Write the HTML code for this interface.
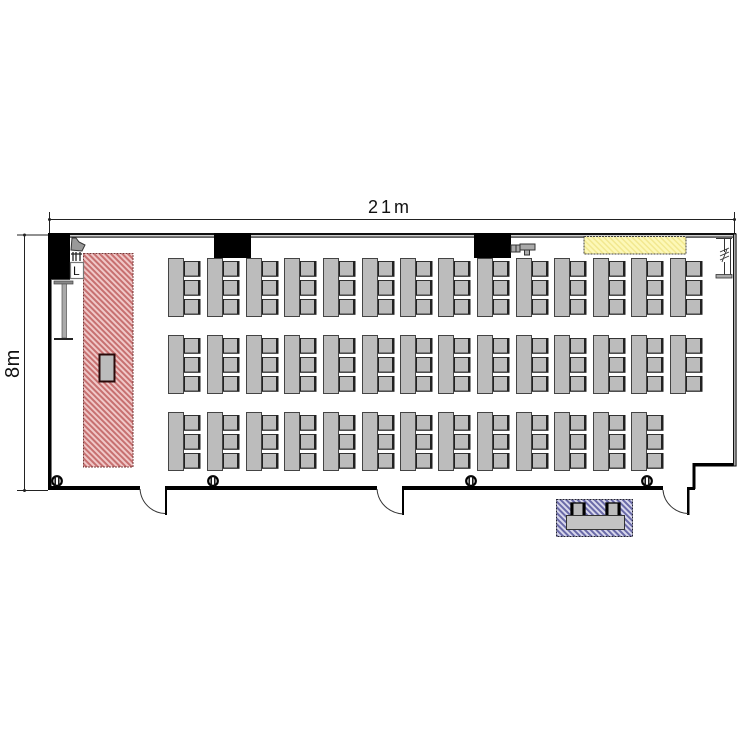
<!DOCTYPE html>
<html><head><meta charset="utf-8"><style>
html,body{margin:0;padding:0;background:#fff}
svg{display:block}
text{font-family:"Liberation Sans",sans-serif;fill:#111}
</style></head><body>
<svg width="750" height="750" viewBox="0 0 750 750" xmlns="http://www.w3.org/2000/svg">
<defs>
<pattern id="red" width="4" height="4" patternUnits="userSpaceOnUse" patternTransform="rotate(45)">
<rect width="4" height="4" fill="#f0c8c8"/><rect width="4" height="2" y="0" fill="#c77070"/>
</pattern>
<pattern id="blue" width="4" height="4" patternUnits="userSpaceOnUse" patternTransform="rotate(45)">
<rect width="4" height="4" fill="#d8d8ec"/><rect width="4" height="2" fill="#6a6aa8"/>
</pattern>
<pattern id="yel" width="4" height="4" patternUnits="userSpaceOnUse" patternTransform="rotate(45)">
<rect width="4" height="4" fill="#fdf8b8"/><rect width="4" height="1.5" fill="#f2e890"/>
</pattern>
<g id="chair">
<rect x="15" y="0" width="17" height="15.5" fill="#bcbcbc"/>
<rect x="15" y="0" width="17.5" height="1" fill="#333"/>
<rect x="15" y="14.6" width="17.5" height="1.2" fill="#222"/>
<rect x="15" y="0" width="2" height="15.5" fill="#222"/>
<rect x="30" y="0" width="2.5" height="15.5" fill="#222"/>
</g>
<g id="u">
<use href="#chair" y="3"/><use href="#chair" y="22"/><use href="#chair" y="41"/>
<rect x="0.5" y="0.5" width="15" height="58" fill="#bcbcbc" stroke="#444" stroke-width="1"/>
</g>
<g id="col">
<circle cx="0" cy="0" r="4.8" fill="#fff" stroke="#000" stroke-width="2.2"/>
<path d="M-1.8-5V5M1.8-5V5" stroke="#111" stroke-width="1.5" fill="none"/>
</g>
</defs>

<!-- dimensions -->
<g stroke="#222" stroke-width="1" fill="none">
<path d="M49 219.5H734M49.5 212V234M734.5 212V233"/>
<path d="M24.5 235V490M17 235H48M17 490.5H48"/>
</g>
<circle cx="49.5" cy="219.5" r="1.5" fill="#222"/>
<circle cx="734.5" cy="219.5" r="1.5" fill="#222"/>
<circle cx="24.5" cy="235" r="1.5" fill="#222"/>
<circle cx="24.5" cy="490.5" r="1.5" fill="#222"/>
<text x="368" y="213" font-size="18" letter-spacing="3">21m</text>
<text transform="translate(19,378) rotate(-90)" font-size="20" letter-spacing="0.5">8m</text>

<!-- top wall -->
<rect x="48" y="233" width="688" height="2.2" fill="#111"/>
<rect x="48" y="236.4" width="686" height="1.3" fill="#222"/>

<!-- black pillars -->
<rect x="48" y="233" width="22" height="46" fill="#000"/>
<rect x="214" y="233" width="37" height="25" fill="#000"/>
<rect x="474" y="233" width="37" height="25" fill="#000"/>

<!-- left wall -->
<rect x="48" y="279" width="3" height="210" fill="#000"/>
<rect x="51" y="279" width="1" height="210" fill="#777"/>
<rect x="51" y="279" width="19" height="1" fill="#444"/>

<!-- bottom walls -->
<g fill="#000">
<rect x="48" y="486" width="92" height="4"/>
<rect x="165" y="486" width="212" height="4"/>
<rect x="403" y="486" width="260" height="4"/>
<rect x="165" y="486" width="2" height="29"/>
<rect x="402" y="486" width="2" height="29"/>
<rect x="687" y="487" width="2.5" height="28"/>
<rect x="687" y="487" width="8" height="3"/>
<rect x="692.5" y="464" width="3" height="25"/>
<rect x="692.5" y="463" width="43" height="3.5"/>
</g>
<g fill="none" stroke="#333" stroke-width="1">
<path d="M140 489C141 503 152 513 165 513.5"/>
<path d="M377 489C378 503 389 513 403 514"/>
<path d="M663 490C664 503 675 513 688 513.5"/>
</g>

<!-- right wall -->
<rect x="733.5" y="234" width="2.6" height="232" fill="#aaa" stroke="#111" stroke-width="1"/>
<path d="M716 238.5H732M730.5 238V278M724.5 238V252M724.5 262V275" stroke="#333" stroke-width="1" fill="none"/>
<rect x="716" y="274.5" width="16" height="3.5" fill="#aaa" stroke="#333" stroke-width="0.8"/>
<path d="M720 252L729 248M720 256L729 252M720 260L729 256M722 262L727 249" stroke="#333" stroke-width="0.9" fill="none"/>

<!-- red area -->
<rect x="83.5" y="253.5" width="49.5" height="213.5" fill="url(#red)" stroke="#7a3a3a" stroke-width="1" stroke-dasharray="2 1"/>
<rect x="99.5" y="354.5" width="15" height="27" fill="#bcbcbc" stroke="#2a0a0a" stroke-width="2"/>

<!-- yellow -->
<rect x="584" y="236.5" width="102" height="17.5" fill="url(#yel)" stroke="#444" stroke-width="1" stroke-dasharray="2 1"/>

<!-- stand -->
<rect x="54" y="281" width="19" height="3" fill="#888" stroke="#444" stroke-width="0.7"/>
<rect x="62" y="284" width="4.5" height="54" fill="#aaa" stroke="#555" stroke-width="0.7"/>
<rect x="54" y="338" width="19" height="2" fill="#222"/>

<!-- lectern and camera -->
<path d="M72 238L76 238 79 242 85 245 82 251 71 250Z" fill="#999" stroke="#333" stroke-width="1"/>
<path d="M71 254H82M73 252V261M76 252V261M80 252V261" stroke="#222" stroke-width="1.3" fill="none"/>
<rect x="70.5" y="262.5" width="13" height="16" fill="#fff" stroke="#777" stroke-width="1.2"/>
<text x="73" y="275" font-size="12">L</text>

<!-- small object near pillar -->
<g fill="#aaa" stroke="#333" stroke-width="1">
<rect x="511" y="245" width="5" height="7"/>
<rect x="516" y="245" width="4" height="7"/>
<rect x="520" y="244" width="15" height="6"/>
<rect x="524.5" y="250" width="5" height="5"/>
</g>

<!-- desks row 1 -->
<use href="#u" x="168" y="258"/><use href="#u" x="207" y="258"/><use href="#u" x="246" y="258"/><use href="#u" x="284" y="258"/><use href="#u" x="323" y="258"/><use href="#u" x="362" y="258"/><use href="#u" x="400" y="258"/><use href="#u" x="438" y="258"/><use href="#u" x="477" y="258"/><use href="#u" x="516" y="258"/><use href="#u" x="554" y="258"/><use href="#u" x="593" y="258"/><use href="#u" x="631" y="258"/><use href="#u" x="670" y="258"/>
<!-- desks row 2 -->
<use href="#u" x="168" y="335"/><use href="#u" x="207" y="335"/><use href="#u" x="246" y="335"/><use href="#u" x="284" y="335"/><use href="#u" x="323" y="335"/><use href="#u" x="362" y="335"/><use href="#u" x="400" y="335"/><use href="#u" x="438" y="335"/><use href="#u" x="477" y="335"/><use href="#u" x="516" y="335"/><use href="#u" x="554" y="335"/><use href="#u" x="593" y="335"/><use href="#u" x="631" y="335"/><use href="#u" x="670" y="335"/>
<!-- desks row 3 -->
<use href="#u" x="168" y="412"/><use href="#u" x="207" y="412"/><use href="#u" x="246" y="412"/><use href="#u" x="284" y="412"/><use href="#u" x="323" y="412"/><use href="#u" x="362" y="412"/><use href="#u" x="400" y="412"/><use href="#u" x="438" y="412"/><use href="#u" x="477" y="412"/><use href="#u" x="516" y="412"/><use href="#u" x="554" y="412"/><use href="#u" x="593" y="412"/><use href="#u" x="631" y="412"/>

<!-- wall columns -->
<use href="#col" x="57" y="481"/><use href="#col" x="213" y="481"/><use href="#col" x="471" y="481"/><use href="#col" x="647" y="481"/>

<!-- blue area -->
<rect x="556.5" y="499.5" width="76" height="37" fill="url(#blue)" stroke="#223" stroke-width="1" stroke-dasharray="2 1"/>
<rect x="571" y="503" width="14" height="13" fill="#bcbcbc" stroke="#111" stroke-width="1.4"/>
<rect x="606" y="503" width="14" height="13" fill="#bcbcbc" stroke="#111" stroke-width="1.4"/>
<rect x="571" y="503" width="2.5" height="13" fill="#000"/><rect x="582.5" y="503" width="2.5" height="13" fill="#000"/>
<rect x="606" y="503" width="2.5" height="13" fill="#000"/><rect x="617.5" y="503" width="2.5" height="13" fill="#000"/>
<rect x="566.5" y="515.5" width="58" height="14" fill="#c4c4c4" stroke="#333" stroke-width="1"/>
</svg>
</body></html>
